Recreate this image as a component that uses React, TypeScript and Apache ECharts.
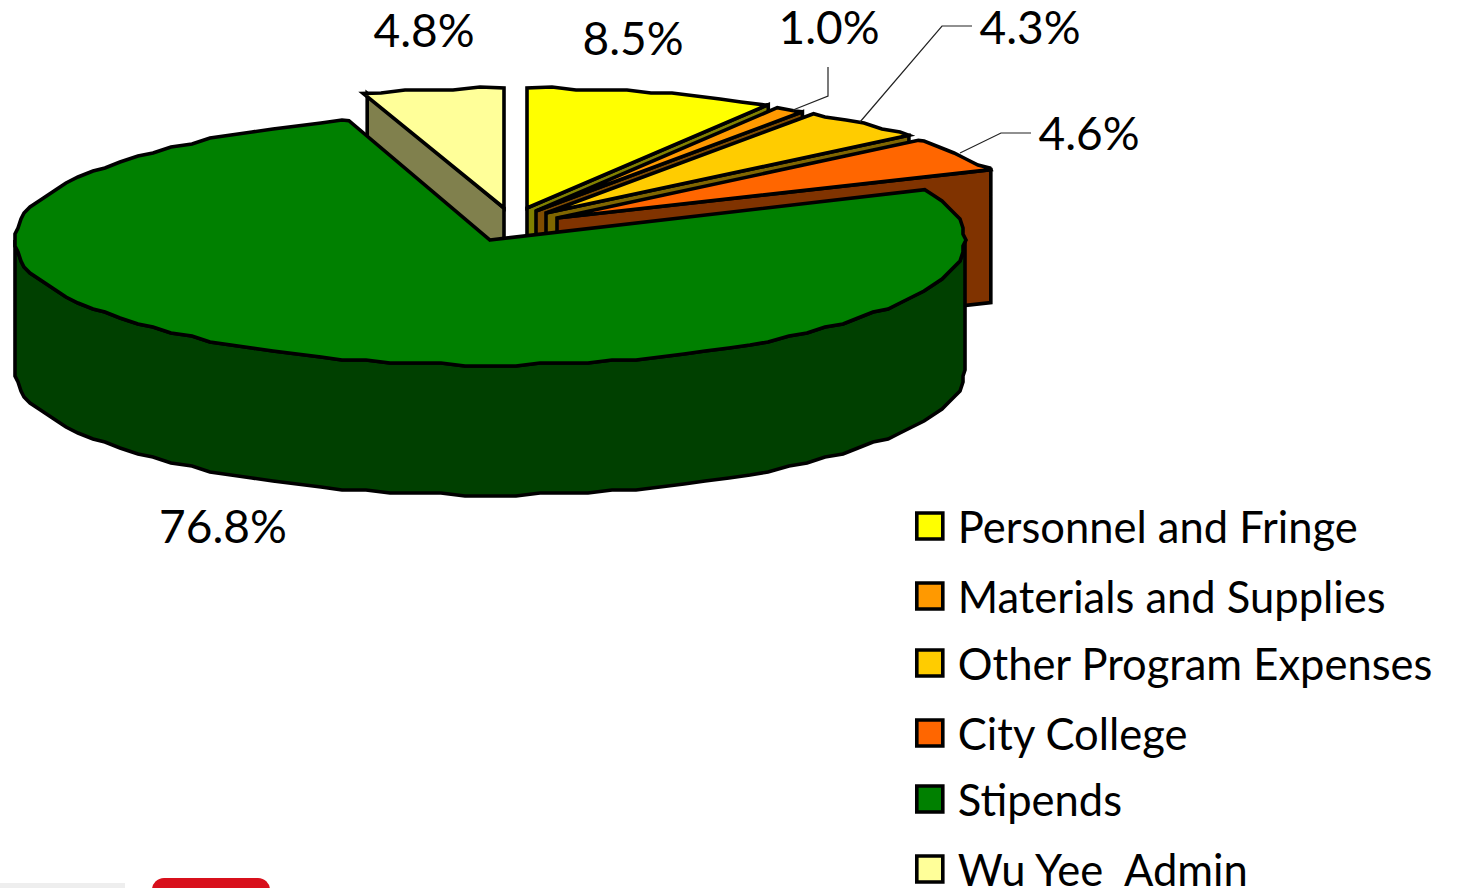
import React, { useEffect, useRef } from "react";
import * as echarts from "echarts";

const categories = ["Personnel and Fringe", "Materials and Supplies", "Other Program Expenses", "City College", "Stipends", "Wu Yee  Admin"];
const values = [8.5, 1.0, 4.3, 4.6, 76.8, 4.8];
const topColors = ["#FFFF00", "#FF9900", "#FFCC00", "#FF6600", "#008000", "#FFFF99"];
const wallColors = ["#808000", "#804D00", "#806600", "#803300", "#004000", "#80804D"];
const apexX = [527, 536, 546, 557, 490, 504];
const apexY = [208, 211, 213, 218, 240, 208];
const radiusX = [474, 474, 476, 474, 475, 474];
const radiusY = [120, 120, 120, 120, 125, 120];
const depths = [132, 132, 132, 133, 130, 132];
const wallInset = [0, 0, 0, 0, 0, 4];
const drawOrder = [2, 3, 4, 5, 6, 1];
const labelX = [633, 829, 1030, 1089, 223, 424];
const labelY = [37, 26, 26, 132, 525, 29];
const leaders: number[][][] = [[], [[828, 67], [828, 96], [793, 110]], [[972, 26], [942, 26], [860, 122]], [[1031, 133], [1001, 133], [960, 153]], [], []];
const legendCenterY = [528, 598, 665, 735, 801, 871];
const total = values.reduce((a, b) => a + b, 0);
const STEP = 3;

const rad = (deg: number) => (deg * Math.PI) / 180;
const snap = (n: number, g: number) => Math.round(n / g) * g;

function arc(i: number, a0: number, a1: number, dy: number): number[][] {
  const lo = Math.min(a0, a1);
  const hi = Math.max(a0, a1);
  const angles = [lo];
  for (let a = Math.ceil(lo / STEP + 0.01) * STEP; a < hi; a += STEP) angles.push(a);
  angles.push(hi);
  const pts = angles.map((deg, k) => {
    const a = rad(deg);
    const x = apexX[i] + radiusX[i] * Math.sin(a);
    const y = apexY[i] - radiusY[i] * Math.cos(a);
    return k === 0 || k === angles.length - 1 ? [x, y + dy] : [snap(x, 3), snap(y, 3) + dy];
  });
  return a1 >= a0 ? pts : pts.reverse();
}

const stroke = { stroke: "#000", lineWidth: 3.6, lineJoin: "miter" };

function makeRenderItem(i: number) {
  return () => {
    const before = values.slice(0, i).reduce((a, b) => a + b, 0);
    const startA = (before / total) * 360;
    const endA = ((before + values[i]) / total) * 360;
    const ax = apexX[i];
    const ay = apexY[i];
    const d = depths[i];
    const children: any[] = [];
    const point = (a: number) => [ax + radiusX[i] * Math.sin(rad(a)) + wallInset[i], ay - radiusY[i] * Math.cos(rad(a))];

    if (i !== 4) {
      const p = point(i === 5 ? startA : endA);
      children.push({
        type: "polygon",
        shape: { points: [[ax, ay], p, [p[0], p[1] + d], [ax, ay + d]] },
        style: { fill: wallColors[i], ...stroke },
      });
    } else {
      const rim = [...arc(i, 90, 270, 0), ...arc(i, 270, 90, d)];
      children.push({ type: "polygon", shape: { points: rim }, style: { fill: wallColors[i], ...stroke } });
    }
    children.push({
      type: "polygon",
      shape: { points: [[ax, ay], ...arc(i, startA, endA, 0)] },
      style: { fill: topColors[i], ...stroke },
    });
    if (leaders[i].length) {
      children.push({
        type: "polyline",
        shape: { points: leaders[i] },
        style: { fill: "none", stroke: "#222", lineWidth: 1.2 },
      });
    }
    children.push({
      type: "text",
      style: {
        text: values[i].toFixed(1) + "%",
        x: labelX[i],
        y: labelY[i],
        align: "center",
        verticalAlign: "middle",
        fill: "#000",
        font: "46px Lato",
      },
    });
    return { type: "group", children };
  };
}

export default function App() {
  const ref = useRef<HTMLDivElement>(null);
  useEffect(() => {
    const chart = echarts.init(ref.current!, null, { renderer: "svg" });
    chart.setOption({
      animation: false,
      backgroundColor: "#fff",
      legend: categories.map((name, i) => ({
        data: [{ name, icon: "rect", itemStyle: { color: topColors[i], borderColor: "#000", borderWidth: 3.6 } }],
        orient: "vertical",
        left: 915,
        top: legendCenterY[i] - 24,
        padding: 0,
        itemWidth: 26,
        itemHeight: 26,
        selectedMode: false,
        textStyle: { fontFamily: "Lato", fontSize: 43.5, color: "#000", padding: [0, 0, 4, 10] },
      })),
      graphic: [
        { type: "rect", shape: { x: 152, y: 878, width: 118, height: 40, r: 12 }, style: { fill: "#D8101C" } },
        { type: "rect", shape: { x: 0, y: 883, width: 125, height: 5 }, style: { fill: "#EEEEEE" } },
      ],
      series: categories.map((name, i) => ({
        type: "custom",
        name,
        coordinateSystem: "none",
        z: drawOrder[i] + 1,
        silent: true,
        itemStyle: { color: topColors[i] },
        data: [values[i]],
        renderItem: makeRenderItem(i),
      })),
    });
    return () => chart.dispose();
  }, []);
  return <div ref={ref} style={{ position: "fixed", left: 0, top: 0, width: 1459, height: 888 }} />;
}
